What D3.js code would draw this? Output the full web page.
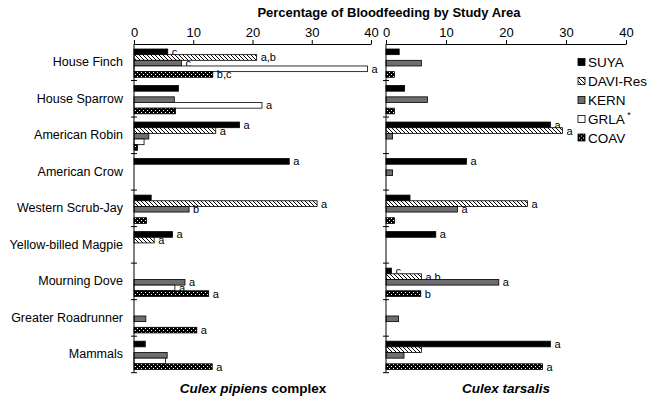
<!DOCTYPE html>
<html>
<head>
<meta charset="utf-8">
<title>Bloodfeeding by Study Area</title>
<script src="https://d3js.org/d3.v7.min.js"></script>
<style>
  body { margin: 0; background: #fff; }
  text { font-family: Arial, "Liberation Sans", sans-serif; fill: #000; }
</style>
</head>
<body>
<svg id="chart" width="651" height="402"></svg>
<script>
// hosts
var categories = ["House Finch", "House Sparrow", "American Robin", "American Crow",
  "Western Scrub-Jay", "Yellow-billed Magpie", "Mourning Dove", "Greater Roadrunner", "Mammals"];
var series = ["SUYA", "DAVI-Res", "KERN", "GRLA", "COAV"];
var ticks = [0, 10, 20, 30, 40];

// Culex pipiens complex, % by study area
var pipSUYA = [5.7, 7.5, 17.8, 26.2, 2.9, 6.5, 0, 0, 1.9];
var pipDAVI = [20.7, 0, 13.8, 0, 30.9, 3.4, 0, 0, 0];
var pipKERN = [8.0, 6.8, 2.5, 0, 9.3, 0, 8.6, 2.0, 5.6];
var pipGRLA = [39.4, 21.6, 1.7, 0, 0, 0, 6.9, 0, 5.3];
var pipCOAV = [13.3, 7.0, 0.6, 0, 2.1, 0, 12.6, 10.6, 13.2];

// Culex tarsalis
var tarSUYA = [2.2, 3.1, 27.4, 13.4, 4.0, 8.3, 0.9, 0, 27.4];
var tarDAVI = [0, 0, 29.4, 0, 23.6, 0, 5.9, 0, 5.9];
var tarKERN = [5.9, 6.9, 1.1, 1.1, 11.9, 0, 18.8, 2.1, 3.0];
var tarGRLA = [0, 0, 0, 0, 0, 0, 0, 0, 0];
var tarCOAV = [1.4, 1.4, 0, 0, 1.4, 0, 5.8, 0, 26.1];

// significance letters
var pipSUYAlab = ["c", "", "a", "a", "", "a", "", "", ""];
var pipDAVIlab = ["a,b", "", "a", "", "a", "a", "", "", ""];
var pipKERNlab = ["c", "", "", "", "b", "", "a", "", ""];
var pipGRLAlab = ["a", "a", "", "", "", "", "a", "", ""];
var pipCOAVlab = ["b,c", "", "", "", "", "", "a", "a", "a"];

var tarSUYAlab = ["", "", "a", "a", "", "a", "c", "", "a"];
var tarDAVIlab = ["", "", "a", "", "a", "", "a,b", "", ""];
var tarKERNlab = ["", "", "", "", "a", "", "a", "", ""];
var tarGRLAlab = ["", "", "", "", "", "", "", "", ""];
var tarCOAVlab = ["", "", "", "", "", "", "b", "", "a"];

var pipiens = [pipSUYA, pipDAVI, pipKERN, pipGRLA, pipCOAV];
var tarsalis = [tarSUYA, tarDAVI, tarKERN, tarGRLA, tarCOAV];
var pipLabs = [pipSUYAlab, pipDAVIlab, pipKERNlab, pipGRLAlab, pipCOAVlab];
var tarLabs = [tarSUYAlab, tarDAVIlab, tarKERNlab, tarGRLAlab, tarCOAVlab];

var svg = d3.select("#chart");

// fills
var defs = svg.append("defs");
var hatch = defs.append("pattern").attr("id", "hatch")
  .attr("patternUnits", "userSpaceOnUse").attr("width", 4).attr("height", 4);
hatch.append("rect").attr("width", 4).attr("height", 4).attr("fill", "#fff");
hatch.append("path").attr("d", "M0,0 L4,4 M-1,3 L1,5 M3,-1 L5,1")
  .attr("stroke", "#000").attr("stroke-width", 1);
var dots = defs.append("pattern").attr("id", "dots")
  .attr("patternUnits", "userSpaceOnUse").attr("width", 4).attr("height", 4);
dots.append("rect").attr("width", 4).attr("height", 4).attr("fill", "#000");
dots.append("rect").attr("x", 1).attr("y", 0).attr("width", 1).attr("height", 1).attr("fill", "#fff");
dots.append("rect").attr("x", 3).attr("y", 2).attr("width", 1).attr("height", 1).attr("fill", "#fff");

var fills = ["#000", "url(#hatch)", "#6e6e6e", "#fff", "url(#dots)"];

var y = d3.scaleBand().domain(categories).range([44, 372.7]);
var yIn = d3.scaleBand().domain(series).range([5, 33.3]);

var xL = d3.scaleLinear().domain([0, 40]).range([134, 371]);
var xR = d3.scaleLinear().domain([0, 40]).range([386, 626]);

function panel(x, data, labs) {
  var g = svg.append("g");
  series.forEach(function (s, si) {
    var rows = categories.map(function (c, ci) {
      return { cat: c, v: data[si][ci], lab: labs[si][ci] };
    });
    g.selectAll(null).data(rows.filter(function (d) { return d.v > 0; }))
      .enter().append("rect")
      .attr("x", x(0))
      .attr("y", function (d) { return y(d.cat) + yIn(s); })
      .attr("width", function (d) { return x(d.v) - x(0); })
      .attr("height", yIn.bandwidth())
      .attr("fill", fills[si])
      .attr("stroke", "#000")
      .attr("stroke-width", 0.8);
    g.selectAll(null).data(rows.filter(function (d) { return d.lab; }))
      .enter().append("text")
      .attr("x", function (d) { return x(d.v) + 4; })
      .attr("y", function (d) { return y(d.cat) + yIn(s) + yIn.bandwidth() / 2 + 4; })
      .attr("font-size", 11)
      .text(function (d) { return d.lab; });
  });

  // top axis
  svg.append("g")
    .attr("transform", "translate(0,44)")
    .call(d3.axisTop(x).tickValues(ticks).tickSize(4).tickSizeOuter(0).tickPadding(3))
    .call(function (a) {
      a.selectAll("text").attr("font-size", 13).attr("font-family", "Arial, 'Liberation Sans', sans-serif");
      a.selectAll("line,path").attr("stroke", "#000");
    });

  // category axis
  var bounds = categories.map(function (c) { return y(c); }).concat([y.range()[1]]);
  svg.append("line").attr("x1", x(0)).attr("x2", x(0))
    .attr("y1", 44).attr("y2", y.range()[1]).attr("stroke", "#000");
  svg.selectAll(null).data(bounds.slice(1)).enter().append("line")
    .attr("x1", x(0) - 3).attr("x2", x(0) + 3)
    .attr("y1", function (d) { return d; }).attr("y2", function (d) { return d; })
    .attr("stroke", "#000");
}

panel(xL, pipiens, pipLabs);
panel(xR, tarsalis, tarLabs);

// category names
svg.selectAll(null).data(categories).enter().append("text")
  .attr("x", 123)
  .attr("y", function (d) { return y(d) + y.bandwidth() / 2 + 4; })
  .attr("text-anchor", "end")
  .attr("font-size", 12.5)
  .text(function (d) { return d; });

// title
svg.append("text").attr("x", 389).attr("y", 17)
  .attr("text-anchor", "middle").attr("font-size", 13).attr("font-weight", "bold")
  .text("Percentage of Bloodfeeding by Study Area");

// panel titles
var t1 = svg.append("text").attr("x", 253).attr("y", 393)
  .attr("text-anchor", "middle").attr("font-size", 13.5).attr("font-weight", "bold");
t1.append("tspan").attr("font-style", "italic").text("Culex pipiens");
t1.append("tspan").text(" complex");
svg.append("text").attr("x", 506).attr("y", 393)
  .attr("text-anchor", "middle").attr("font-size", 13.5).attr("font-weight", "bold")
  .attr("font-style", "italic").text("Culex tarsalis");

// legend
var legY = [62, 81, 100, 119, 137.5];
var leg = svg.selectAll(null).data(series).enter().append("g")
  .attr("transform", function (d, i) { return "translate(578," + legY[i] + ")"; });
leg.append("rect").attr("x", 0).attr("y", -3.5).attr("width", 7).attr("height", 7)
  .attr("fill", function (d, i) { return fills[i]; })
  .attr("stroke", "#000").attr("stroke-width", 0.8);
var lt = leg.append("text").attr("x", 10).attr("y", 5).attr("font-size", 13.5)
  .text(function (d) { return d; });
lt.filter(function (d) { return d === "GRLA"; }).append("tspan")
  .attr("dy", -6).attr("font-size", 9).text(" *");
</script>
</body>
</html>
